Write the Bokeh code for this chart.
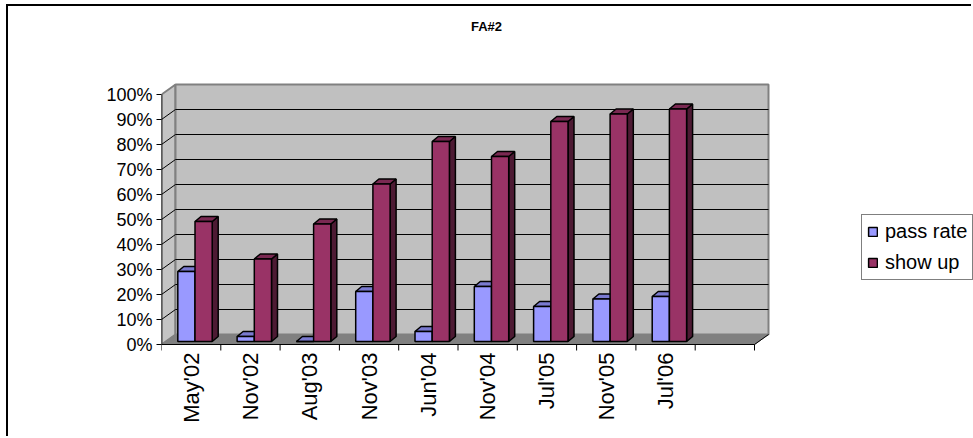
import math
from bokeh.plotting import figure
from bokeh.models import Range1d, FixedTicker, LinearAxis, Legend, LegendItem, Label
from bokeh.embed import file_html
from bokeh.resources import INLINE
from bokeh.core.properties import value

# ---------------- data ----------------
categories = ["May'02", "Nov'02", "Aug'03", "Nov'03", "Jun'04", "Nov'04", "Jul'05", "Nov'05", "Jul'06"]
pass_rate = [28, 2, 0, 20, 4, 22, 14, 17, 18]
show_up = [48, 33, 47, 63, 80, 74, 88, 91, 93]
series_names = ["pass rate", "show up"]
y_ticks = [0, 10, 20, 30, 40, 50, 60, 70, 80, 90, 100]
y_tick_labels = ["0%", "10%", "20%", "30%", "40%", "50%", "60%", "70%", "80%", "90%", "100%"]
title_text = "FA#2"

# ---------------- layout / style ----------------
ORIGIN_X, ORIGIN_Y = 8, 6    # page position of the figure content (after CSS border)
W, H = 973 - ORIGIN_X, 438 - ORIGIN_Y
AXIS_X, ZERO_Y = 161, 344    # page position of the front value axis and its 0%
FRAME_LEFT = AXIS_X - ORIGIN_X
ZERO_FROM_TOP = ZERO_Y - ORIGIN_Y
PX_PER_CAT = 59.3
PX_PER_PCT = 2.5
N_SLOTS = 10
FONT = "Liberation Sans"

x_end = (W - FRAME_LEFT) / PX_PER_CAT
y_end = ZERO_FROM_TOP / PX_PER_PCT
y_start = -(H - ZERO_FROM_TOP) / PX_PER_PCT
Y_MAX = y_ticks[-1]

DX = 14 / PX_PER_CAT        # wall depth
DY = 10 / PX_PER_PCT
BDX = 6 / PX_PER_CAT        # bar depth
BDY = 5 / PX_PER_PCT
BAR_BASE = 3 / PX_PER_PCT
BAR_LEFT = 0.275
BAR_W = 0.29

COLORS = {
    "pass": ("#9999FF", "#7A7AD0", "#4D4D80"),
    "show": ("#993366", "#7A2952", "#4D1A33"),
}

p = figure(width=W, height=H, output_backend="svg", toolbar_location=None,
           x_axis_location=None, y_axis_location=None,
           x_range=Range1d(0, x_end), y_range=Range1d(y_start, y_end),
           min_border_left=FRAME_LEFT, min_border_right=0, min_border_top=0, min_border_bottom=0)
p.outline_line_color = None
p.grid.visible = False
p.background_fill_color = "white"
p.border_fill_color = "white"
p.styles = {"margin-left": "6px", "margin-top": "4px",
            "border-left": "2px solid #000000", "border-top": "2px solid #000000"}

# ---------------- walls and floor ----------------
p.patch([0, 0, DX, DX], [0, Y_MAX, Y_MAX + DY, DY], fill_color="#C4C4C4", line_color="#808080", line_width=2)
p.quad(left=DX, right=N_SLOTS + DX, bottom=DY, top=Y_MAX + DY, fill_color="#C0C0C0",
       line_color="#808080", line_width=2)
p.patch([0, N_SLOTS, N_SLOTS + DX, DX], [0, 0, DY, DY], fill_color="#808080", line_color="#808080", line_width=1)

grid_vals = y_ticks[1:-1]
p.segment(x0=[DX] * len(grid_vals), y0=[v + DY for v in grid_vals],
          x1=[N_SLOTS + DX] * len(grid_vals), y1=[v + DY for v in grid_vals],
          line_color="#000000", line_width=1)
p.segment(x0=[0] * len(grid_vals), y0=grid_vals,
          x1=[DX] * len(grid_vals), y1=[v + DY for v in grid_vals],
          line_color="#000000", line_width=1)

# ---------------- bars ----------------
def faces(values, offset):
    fr_x, fr_y, tp_x, tp_y, sd_x, sd_y = [], [], [], [], [], []
    for i, v in enumerate(values):
        x0 = i + offset
        x1 = x0 + BAR_W
        b = BAR_BASE
        t = BAR_BASE + v
        fr_x.append([x0, x1, x1, x0]); fr_y.append([b, b, t, t])
        tp_x.append([x0, x1, x1 + BDX, x0 + BDX]); tp_y.append([t, t, t + BDY, t + BDY])
        sd_x.append([x1, x1 + BDX, x1 + BDX, x1]); sd_y.append([b, b + BDY, t + BDY, t])
    return fr_x, fr_y, tp_x, tp_y, sd_x, sd_y

renderers = []
for key, vals, off in (("pass", pass_rate, BAR_LEFT), ("show", show_up, BAR_LEFT + BAR_W)):
    fr_x, fr_y, tp_x, tp_y, sd_x, sd_y = faces(vals, off)
    c_front, c_top, c_side = COLORS[key]
    p.patches(sd_x, sd_y, fill_color=c_side, line_color="#000000", line_width=1.5)
    p.patches(tp_x, tp_y, fill_color=c_top, line_color="#000000", line_width=1.5)
    r = p.patches(fr_x, fr_y, fill_color=c_front, line_color="#000000", line_width=1.5)
    renderers.append(r)

# ---------------- axes ----------------
p.segment(x0=[0], y0=[0], x1=[0], y1=[Y_MAX], line_color="#000000", line_width=1.5)
p.segment(x0=[0], y0=[0], x1=[N_SLOTS], y1=[0], line_color="#000000", line_width=1)
p.segment(x0=[N_SLOTS], y0=[0], x1=[N_SLOTS + DX], y1=[DY], line_color="#000000", line_width=1)
tick_len = 6 / PX_PER_PCT
p.segment(x0=list(range(N_SLOTS + 1)), y0=[0] * (N_SLOTS + 1),
          x1=list(range(N_SLOTS + 1)), y1=[-tick_len] * (N_SLOTS + 1),
          line_color="#000000", line_width=1)

yaxis = LinearAxis(ticker=FixedTicker(ticks=y_ticks),
                   major_label_overrides={v: s for v, s in zip(y_ticks, y_tick_labels)})
yaxis.axis_line_color = None
yaxis.major_tick_in = 0
yaxis.major_tick_out = 5
yaxis.major_tick_line_color = "#000000"
yaxis.minor_tick_line_color = None
yaxis.major_label_standoff = 4
yaxis.major_label_text_font = FONT
yaxis.major_label_text_font_size = "18px"
yaxis.major_label_text_color = "#000000"
p.add_layout(yaxis, "left")

p.text(x=[i + 0.5 for i in range(len(categories))], y=[0] * len(categories), text=categories,
       angle=math.pi / 2, text_align="right", text_baseline="middle", y_offset=8,
       text_font=value(FONT), text_font_size="22px", text_color="#000000")

# ---------------- title ----------------
p.add_layout(Label(x=(486 - AXIS_X) / PX_PER_CAT, y=(ZERO_Y - 26) / PX_PER_PCT, text=title_text,
                   text_align="center", text_baseline="middle", text_font=FONT,
                   text_font_style="bold", text_font_size="13px", text_color="#000000"))

# ---------------- legend ----------------
legend = Legend(items=[LegendItem(label=n, renderers=[r]) for n, r in zip(series_names, renderers)],
                location=(861 - AXIS_X, 158), orientation="vertical",
                border_line_color="#000000", border_line_width=1, background_fill_color="white",
                background_fill_alpha=1.0, padding=5, spacing=8, margin=0,
                glyph_width=11, glyph_height=11, label_height=20, label_standoff=7,
                label_text_font=FONT, label_text_font_size="20px", label_text_color="#000000")
p.add_layout(legend)

open("out.html", "w").write(file_html(p, INLINE))
